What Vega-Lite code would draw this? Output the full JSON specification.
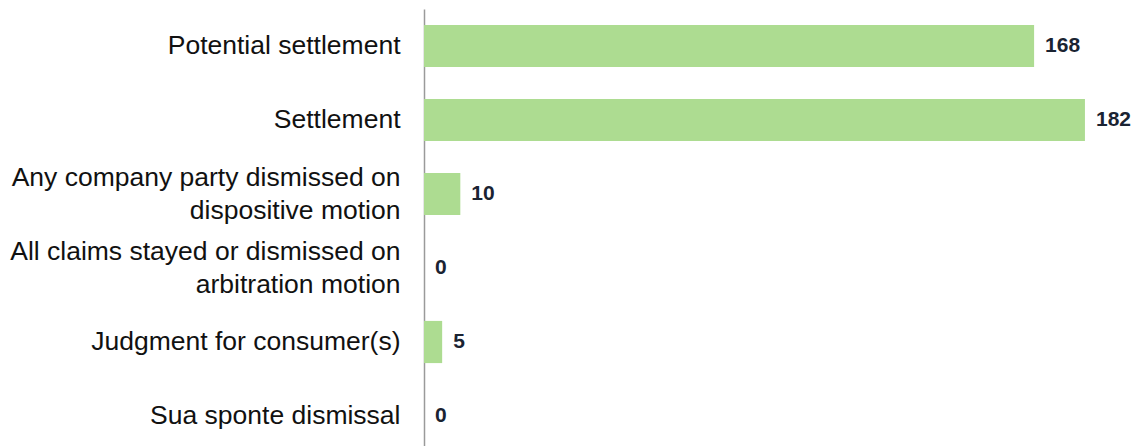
{
  "$schema": "https://vega.github.io/schema/vega-lite/v6.json",
  "autosize": {"type": "none"},
  "padding": {"left": 424, "top": 9, "right": 20, "bottom": 0},
  "width": 690,
  "height": 444,
  "background": "white",
  "config": {
    "view": {"stroke": null, "clip": false},
    "font": "Liberation Sans"
  },
  "data": {
    "values": [
      {"outcome": "Potential settlement", "cases": 168},
      {"outcome": "Settlement", "cases": 182},
      {"outcome": "Any company party dismissed on|dispositive motion", "cases": 10},
      {"outcome": "All claims stayed or dismissed on|arbitration motion", "cases": 0},
      {"outcome": "Judgment for consumer(s)", "cases": 5},
      {"outcome": "Sua sponte dismissal", "cases": 0}
    ]
  },
  "encoding": {
    "y": {
      "field": "outcome",
      "type": "nominal",
      "sort": null,
      "scale": {"paddingInner": 0.43, "paddingOuter": 0.215},
      "axis": {
        "title": null,
        "ticks": false,
        "labelPadding": 24,
        "labelFontSize": 26.5,
        "labelLineHeight": 33,
        "labelColor": "#111111",
        "labelLimit": 0,
        "labelBaseline": "middle",
        "labelOffset": {
          "condition": {"test": "indexof(datum.label, '|') >= 0", "value": -16.5},
          "value": 0
        },
        "labelExpr": "split(datum.label, '|')",
        "domainColor": "#9a9a9a",
        "domainWidth": 1.5,
        "grid": false
      }
    },
    "x": {
      "field": "cases",
      "type": "quantitative",
      "scale": {"domain": [0, 190], "nice": false},
      "axis": null
    }
  },
  "layer": [
    {
      "mark": {"type": "bar", "color": "#addc91"}
    },
    {
      "mark": {
        "type": "text",
        "align": "left",
        "baseline": "middle",
        "dx": 11,
        "dy": 0,
        "fontSize": 21,
        "fontWeight": "bold",
        "color": "#1a2332"
      },
      "encoding": {"text": {"field": "cases", "type": "quantitative"}}
    }
  ]
}
